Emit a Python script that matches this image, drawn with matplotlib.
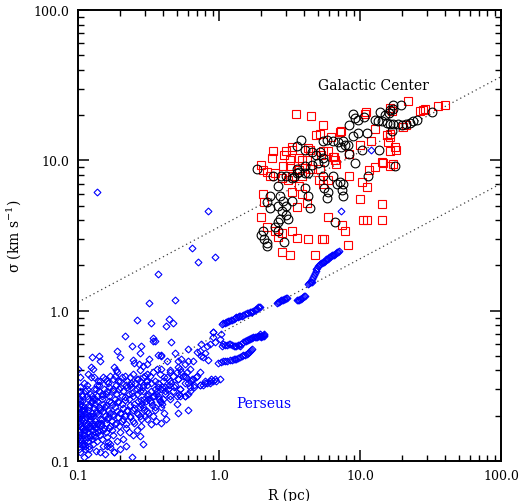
import numpy as np
import matplotlib
matplotlib.use('Agg')
import matplotlib.pyplot as plt
from matplotlib.ticker import LogLocator, NullFormatter

plt.rcParams['font.family'] = ['DejaVu Serif']
plt.rcParams['mathtext.default'] = 'regular'

# Galactic Center clouds: red squares (R [pc], sigma [km/s])
gc_squares = [
    (3.5, 20.2), (4.5, 19.7), (5.5, 17.1), (11.0, 20.9), (22.0, 24.7), (26.5, 21.2), (28.0, 21.5),
    (29.0, 21.8), (36.0, 23.0), (40.0, 23.3), (7.2, 15.4), (7.3, 15.6), (4.9, 14.7), (5.2, 14.9),
    (6.2, 14.3), (12.7, 16.1), (15.5, 14.7), (16.2, 14.9), (10.8, 20.3), (16.2, 22.2), (16.8, 21.2),
    (20.1, 16.6), (21.2, 17.1), (10.0, 12.6), (11.9, 13.4), (15.8, 13.2), (16.4, 14.3), (18.0, 11.7),
    (17.7, 12.2), (16.2, 11.5), (8.4, 11.1), (6.5, 10.6), (4.3, 12.0), (3.3, 12.2), (2.4, 11.5),
    (2.37, 10.3), (3.0, 11.5), (2.9, 10.8), (14.3, 9.8), (14.6, 9.6), (12.7, 9.0), (11.6, 8.6),
    (16.2, 9.2), (17.1, 9.4), (10.3, 7.2), (11.2, 6.6), (8.4, 7.9), (10.0, 5.5), (14.3, 5.1),
    (5.9, 4.2), (10.5, 4.0), (11.2, 4.0), (14.3, 4.0), (7.4, 3.7), (7.8, 3.4), (8.2, 2.75),
    (4.3, 3.0), (5.4, 3.0), (5.6, 3.0), (3.3, 3.4), (3.6, 3.05), (2.8, 3.3), (2.8, 2.47),
    (3.2, 2.33), (4.8, 2.33), (2.05, 6.0), (2.1, 5.3), (2.0, 4.2), (2.2, 3.6), (2.5, 3.4),
    (2.6, 3.1), (3.6, 4.9), (4.2, 5.2), (5.1, 7.4), (5.5, 7.0), (5.9, 7.4), (2.05, 8.6),
    (2.3, 7.9), (2.5, 8.2), (2.8, 7.6), (3.1, 7.4), (3.3, 6.2), (3.7, 6.7), (3.9, 6.0),
    (2.0, 9.3), (2.2, 8.4), (3.3, 11.8), (3.2, 10.0), (3.2, 9.1), (2.85, 9.1), (3.7, 10.3),
    (3.9, 10.0), (4.2, 10.1), (4.4, 11.7), (5.3, 10.9), (5.5, 11.5), (5.9, 11.5), (6.4, 10.6),
    (6.6, 10.0), (6.8, 9.4), (3.7, 8.6), (4.4, 8.8), (4.6, 8.7), (5.2, 8.7), (3.3, 7.9), (3.9, 7.9),
]

# Galactic Center clouds: black circles
gc_circles = [
    (17.1, 23.5), (19.5, 23.5), (16.4, 21.5), (17.1, 21.8), (13.8, 20.9), (15.0, 19.9), (16.0, 20.6),
    (8.9, 20.3), (9.2, 19.1), (9.6, 18.5), (10.7, 19.3), (12.7, 18.5), (13.4, 18.2), (14.3, 18.2),
    (15.5, 17.6), (16.4, 17.4), (17.1, 17.4), (18.6, 17.4), (19.8, 17.1), (21.2, 17.4), (22.5, 17.6),
    (23.7, 18.2), (25.2, 18.5), (32.3, 20.9), (8.4, 17.1), (9.6, 15.1), (11.2, 15.1), (16.8, 15.6),
    (7.6, 13.4), (8.9, 14.5), (8.2, 12.6), (8.4, 11.1), (10.3, 11.7), (13.6, 11.7), (9.2, 9.55),
    (17.6, 9.2), (11.4, 7.9), (7.6, 7.0), (7.4, 6.3), (7.6, 5.8), (3.8, 13.6), (3.6, 12.4),
    (4.1, 11.8), (4.6, 11.3), (4.9, 10.9), (5.2, 11.3), (5.5, 13.4), (5.8, 13.6), (6.4, 13.4),
    (7.0, 13.2), (5.5, 10.3), (5.6, 9.7), (4.1, 9.1), (3.6, 8.8), (3.7, 8.3), (4.3, 8.2),
    (2.4, 7.9), (2.75, 7.9), (4.6, 9.3), (5.0, 9.55), (7.3, 12.2), (7.8, 12.6), (2.3, 5.8),
    (2.2, 5.3), (2.3, 4.8), (2.6, 6.7), (2.7, 5.8), (2.85, 5.4), (3.0, 5.0), (2.6, 5.0),
    (2.8, 4.6), (3.0, 4.3), (3.1, 4.1), (2.7, 4.1), (2.6, 3.9), (2.5, 3.6), (2.6, 3.4),
    (2.05, 3.4), (2.0, 3.2), (2.1, 3.0), (2.2, 2.8), (2.2, 2.7), (2.9, 2.85), (3.0, 7.9),
    (3.3, 7.6), (3.4, 7.8), (3.6, 8.2), (4.1, 8.2), (3.3, 5.4), (4.4, 4.8), (4.1, 6.5),
    (4.3, 5.8), (5.6, 6.5), (5.9, 6.2), (5.8, 5.6), (5.5, 7.9), (6.4, 7.9), (6.9, 7.0),
    (7.2, 7.2), (6.6, 3.9), (1.85, 8.8),
]

# Perseus: sparse upper part of the cloud
perseus_sparse = [
    (0.32, 1.13), (0.49, 1.18), (0.26, 0.87), (0.33, 0.83), (0.44, 0.88), (0.47, 0.83), (0.42, 0.79),
    (0.215, 0.68), (0.34, 0.66), (0.35, 0.63), (0.34, 0.63), (0.46, 0.62), (0.90, 0.72), (0.24, 0.58),
    (0.28, 0.58), (0.275, 0.52), (0.19, 0.54), (0.125, 0.49), (0.14, 0.50), (0.143, 0.46), (0.20, 0.49),
    (0.37, 0.51), (0.39, 0.51), (0.39, 0.50), (0.49, 0.52), (0.245, 0.47), (0.25, 0.45), (0.32, 0.48),
    (0.31, 0.44), (0.60, 0.56), (0.70, 0.53), (0.75, 0.60), (0.82, 0.58), (0.86, 0.60), (0.94, 0.62),
    (0.127, 0.41), (0.18, 0.42), (0.43, 0.46), (0.51, 0.46), (0.54, 0.48), (0.57, 0.44), (0.60, 0.46),
    (0.65, 0.46), (0.75, 0.50), (0.27, 0.44), (0.29, 0.43),
    (0.124, 0.42), (0.185, 0.40), (0.275, 0.40), (0.31, 0.38), (0.39, 0.41), (0.45, 0.40), (0.51, 0.42),
    (0.54, 0.39), (0.124, 0.36), (0.139, 0.34), (0.155, 0.35), (0.163, 0.33), (0.183, 0.37),
    (0.20, 0.34), (0.234, 0.36), (0.237, 0.33), (0.266, 0.35), (0.30, 0.37), (0.35, 0.34),
    (0.41, 0.36), (0.46, 0.33), (0.51, 0.35), (0.57, 0.37), (0.63, 0.34), (0.69, 0.36),
    (0.79, 0.33), (0.88, 0.35), (0.67, 0.31), (0.77, 0.32), (0.86, 0.33), (0.95, 0.34),
    (0.57, 0.27), (0.60, 0.28), (0.50, 0.24), (0.60, 0.22), (0.51, 0.21), (0.39, 0.23), (0.41, 0.21),
    (0.42, 0.19), (0.39, 0.18), (0.34, 0.20), (0.31, 0.19), (0.30, 0.20), (0.29, 0.13), (0.24, 0.107),
    (0.20, 0.12), (0.245, 0.15), (0.275, 0.147), (0.163, 0.134), (0.168, 0.124), (0.155, 0.111),
    (0.134, 0.116), (0.118, 0.111), (0.112, 0.126), (0.103, 0.115),
    (0.103, 0.29), (0.107, 0.27), (0.112, 0.29), (0.116, 0.27), (0.126, 0.27), (0.130, 0.30),
    (0.136, 0.32), (0.143, 0.34), (0.150, 0.36), (0.160, 0.34), (0.168, 0.37), (0.177, 0.35),
    (0.189, 0.39), (0.192, 0.34), (0.205, 0.36), (0.215, 0.37), (0.222, 0.34), (0.234, 0.32),
    (0.246, 0.38), (0.262, 0.35), (0.275, 0.34), (0.289, 0.36), (0.308, 0.34), (0.324, 0.37),
    (0.340, 0.39), (0.363, 0.41), (0.381, 0.38), (0.400, 0.34), (0.427, 0.36), (0.449, 0.39),
    (0.471, 0.37), (0.503, 0.39), (0.528, 0.41), (0.555, 0.37), (0.590, 0.39), (0.620, 0.41),
    (0.653, 0.35), (0.698, 0.37), (0.732, 0.39), (0.289, 0.29), (0.308, 0.27), (0.324, 0.25),
    (0.340, 0.27), (0.363, 0.29), (0.381, 0.25), (0.400, 0.26), (0.414, 0.31), (0.435, 0.30),
    (0.471, 0.29), (0.503, 0.27), (0.528, 0.30), (0.57, 0.27), (0.60, 0.33), (0.64, 0.35),
    (0.67, 0.32), (0.73, 0.32), (0.79, 0.34), (0.86, 0.34), (0.94, 0.35),
    (0.15, 0.125), (0.17, 0.13), (0.19, 0.135), (0.21, 0.14), (0.23, 0.155), (0.26, 0.16),
    (0.28, 0.17), (0.33, 0.175), (0.36, 0.185), (0.22, 0.125), (0.18, 0.115),
    (0.100, 0.41), (0.104, 0.36), (0.110, 0.33), (0.118, 0.38), (0.130, 0.36),
    (0.11, 0.106), (0.12, 0.12), (0.143, 0.115), (0.16, 0.126), (0.18, 0.115),
    (0.73, 0.54), (0.79, 0.52), (0.77, 0.49), (0.84, 0.47), (0.91, 0.72), (1.03, 0.70),
    (1.05, 0.58), (0.91, 0.67), (1.02, 0.65), (0.73, 0.32), (0.82, 0.33), (0.91, 0.34),
    (1.02, 0.35), (0.53, 0.27), (0.62, 0.29),
]

# Perseus: dense core of the cloud
perseus_core = [
    (0.100, 0.13), (0.101, 0.145), (0.100, 0.16), (0.102, 0.175), (0.100, 0.19), (0.101, 0.21),
    (0.100, 0.23), (0.103, 0.25),
    (0.102, 0.12), (0.104, 0.14), (0.101, 0.155), (0.105, 0.17), (0.103, 0.185), (0.100, 0.20),
    (0.106, 0.22), (0.102, 0.26), (0.104, 0.31),
    (0.105, 0.135), (0.102, 0.15), (0.107, 0.165), (0.104, 0.18), (0.101, 0.195), (0.106, 0.215),
    (0.103, 0.24),
    (0.108, 0.125), (0.104, 0.14), (0.110, 0.16), (0.105, 0.17), (0.107, 0.19), (0.103, 0.205),
    (0.109, 0.225), (0.106, 0.28),
    (0.106, 0.13), (0.111, 0.15), (0.108, 0.165), (0.112, 0.18), (0.105, 0.20), (0.110, 0.22),
    (0.107, 0.25),
    (0.113, 0.12), (0.108, 0.14), (0.111, 0.155), (0.114, 0.17), (0.109, 0.185), (0.112, 0.21),
    (0.107, 0.235), (0.115, 0.30),
    (0.110, 0.13), (0.116, 0.145), (0.112, 0.16), (0.117, 0.175), (0.114, 0.195), (0.111, 0.215),
    (0.118, 0.26),
    (0.119, 0.125), (0.114, 0.14), (0.118, 0.155), (0.121, 0.17), (0.113, 0.19), (0.117, 0.20),
    (0.120, 0.23), (0.115, 0.32),
    (0.117, 0.135), (0.123, 0.15), (0.119, 0.165), (0.125, 0.18), (0.121, 0.20), (0.118, 0.22),
    (0.124, 0.245), (0.122, 0.28),
    (0.127, 0.13), (0.121, 0.145), (0.126, 0.16), (0.129, 0.175), (0.122, 0.19), (0.125, 0.21),
    (0.120, 0.235), (0.128, 0.26),
    (0.125, 0.14), (0.132, 0.155), (0.127, 0.17), (0.133, 0.185), (0.124, 0.20), (0.130, 0.225),
    (0.126, 0.25), (0.134, 0.30),
    (0.136, 0.135), (0.129, 0.15), (0.134, 0.165), (0.138, 0.18), (0.128, 0.20), (0.135, 0.215),
    (0.131, 0.24), (0.137, 0.27),
    (0.133, 0.145), (0.141, 0.16), (0.136, 0.175), (0.143, 0.19), (0.134, 0.21), (0.140, 0.23),
    (0.132, 0.26), (0.142, 0.29),
    (0.147, 0.14), (0.138, 0.155), (0.145, 0.17), (0.149, 0.19), (0.139, 0.205), (0.144, 0.225),
    (0.137, 0.25), (0.148, 0.28), (0.141, 0.32),
    (0.144, 0.15), (0.153, 0.165), (0.146, 0.18), (0.155, 0.20), (0.143, 0.22), (0.151, 0.24),
    (0.147, 0.27), (0.152, 0.30),
    (0.160, 0.145), (0.150, 0.16), (0.158, 0.18), (0.162, 0.195), (0.151, 0.215), (0.157, 0.235),
    (0.149, 0.26), (0.161, 0.29),
    (0.157, 0.155), (0.168, 0.17), (0.160, 0.19), (0.170, 0.21), (0.156, 0.23), (0.165, 0.25),
    (0.159, 0.28), (0.167, 0.31),
    (0.176, 0.15), (0.165, 0.165), (0.173, 0.185), (0.178, 0.205), (0.164, 0.22), (0.172, 0.245),
    (0.166, 0.27), (0.177, 0.30),
    (0.174, 0.16), (0.187, 0.18), (0.178, 0.20), (0.188, 0.215), (0.173, 0.235), (0.184, 0.26),
    (0.176, 0.29), (0.186, 0.32),
    (0.197, 0.155), (0.184, 0.175), (0.193, 0.195), (0.199, 0.21), (0.183, 0.23), (0.192, 0.25),
    (0.186, 0.28), (0.198, 0.31),
    (0.194, 0.17), (0.208, 0.19), (0.197, 0.21), (0.207, 0.225), (0.193, 0.245), (0.204, 0.27),
    (0.196, 0.30),
    (0.220, 0.165), (0.205, 0.185), (0.216, 0.20), (0.221, 0.22), (0.204, 0.24), (0.214, 0.265),
    (0.207, 0.29), (0.219, 0.32),
    (0.218, 0.175), (0.234, 0.195), (0.222, 0.215), (0.233, 0.235), (0.217, 0.255), (0.229, 0.28),
    (0.221, 0.31),
    (0.249, 0.18), (0.232, 0.20), (0.245, 0.22), (0.250, 0.24), (0.231, 0.26), (0.243, 0.285),
    (0.236, 0.31),
    (0.247, 0.185), (0.265, 0.205), (0.251, 0.225), (0.266, 0.25), (0.246, 0.27), (0.260, 0.30),
    (0.252, 0.33),
    (0.281, 0.19), (0.261, 0.21), (0.276, 0.23), (0.282, 0.255), (0.262, 0.28), (0.273, 0.31),
    (0.276, 0.20), (0.296, 0.22), (0.281, 0.24), (0.295, 0.26), (0.277, 0.29), (0.290, 0.32),
    (0.312, 0.21), (0.290, 0.23), (0.306, 0.25), (0.313, 0.28), (0.291, 0.31), (0.304, 0.34),
    (0.310, 0.215), (0.333, 0.235), (0.316, 0.26), (0.332, 0.29), (0.311, 0.32),
    (0.353, 0.22), (0.329, 0.245), (0.347, 0.27), (0.354, 0.30), (0.330, 0.33),
    (0.349, 0.23), (0.374, 0.26), (0.355, 0.28), (0.372, 0.31),
    (0.395, 0.24), (0.368, 0.27), (0.388, 0.30), (0.370, 0.33),
    (0.388, 0.245), (0.416, 0.28), (0.395, 0.31),
    (0.447, 0.26), (0.417, 0.29), (0.440, 0.32),
    (0.446, 0.27), (0.478, 0.31), (0.452, 0.34),
    (0.520, 0.28), (0.485, 0.32), (0.510, 0.35),
    (0.533, 0.30), (0.570, 0.33), (0.620, 0.31), (0.582, 0.36),
]

# Perseus: continuous tracks
perseus_tracks = [
    (1.05, 0.82), (1.07, 0.825), (1.10, 0.83), (1.12, 0.84), (1.14, 0.845), (1.16, 0.85),
    (1.18, 0.86), (1.21, 0.865), (1.24, 0.87), (1.27, 0.885), (1.30, 0.90), (1.33, 0.905),
    (1.36, 0.91), (1.39, 0.915), (1.41, 0.925), (1.45, 0.925), (1.49, 0.94), (1.53, 0.955),
    (1.57, 0.96), (1.60, 0.97), (1.65, 0.985), (1.68, 0.985), (1.71, 0.985), (1.75, 1.0),
    (1.79, 1.015), (1.82, 1.02), (1.85, 1.03), (1.89, 1.05), (1.92, 1.05), (1.95, 1.05),
    (2.58, 1.13), (2.62, 1.14), (2.66, 1.15), (2.70, 1.16), (2.75, 1.17), (2.80, 1.175),
    (2.84, 1.18), (2.89, 1.19), (2.94, 1.20), (2.99, 1.21), (3.03, 1.22),
    (3.57, 1.17), (3.63, 1.175), (3.69, 1.18), (3.75, 1.19), (3.81, 1.20), (3.88, 1.22),
    (3.94, 1.24), (4.00, 1.25), (4.07, 1.26),
    (4.27, 1.51), (4.35, 1.52), (4.42, 1.54), (4.49, 1.55), (4.56, 1.56), (4.60, 1.62),
    (4.64, 1.68), (4.72, 1.74), (4.80, 1.79), (4.84, 1.84), (4.88, 1.88), (4.95, 1.93),
    (5.03, 1.97), (5.12, 2.0), (5.20, 2.03), (5.29, 2.06), (5.38, 2.09), (5.46, 2.1),
    (5.55, 2.12), (5.65, 2.15), (5.74, 2.19), (5.83, 2.2), (5.92, 2.22), (6.02, 2.26),
    (6.12, 2.29), (6.22, 2.31), (6.33, 2.33), (6.43, 2.35), (6.53, 2.36), (6.64, 2.4),
    (6.75, 2.43), (6.86, 2.45), (6.97, 2.47), (7.08, 2.51),
    (1.07, 0.60), (1.10, 0.595), (1.14, 0.59), (1.17, 0.60), (1.20, 0.60), (1.24, 0.59),
    (1.27, 0.585), (1.30, 0.58), (1.33, 0.585), (1.36, 0.59), (1.38, 0.59), (1.41, 0.58),
    (1.44, 0.60), (1.48, 0.62), (1.52, 0.625), (1.55, 0.63), (1.58, 0.635), (1.60, 0.64),
    (1.63, 0.645), (1.65, 0.65), (1.68, 0.655), (1.71, 0.66), (1.75, 0.665), (1.79, 0.67),
    (1.82, 0.67), (1.85, 0.67), (1.89, 0.675), (1.92, 0.68), (1.95, 0.68), (1.98, 0.68),
    (2.02, 0.68), (2.05, 0.68), (2.08, 0.685), (2.10, 0.68), (2.00, 0.665), (2.07, 0.695),
    (1.95, 0.695),
    (0.99, 0.45), (1.03, 0.455), (1.07, 0.46), (1.10, 0.46), (1.14, 0.465), (1.19, 0.468),
    (1.24, 0.47), (1.27, 0.475), (1.30, 0.48), (1.33, 0.48), (1.36, 0.485), (1.40, 0.49),
    (1.45, 0.50), (1.49, 0.505), (1.53, 0.51), (1.57, 0.515), (1.60, 0.525), (1.62, 0.53),
    (1.65, 0.54), (1.68, 0.55), (1.71, 0.56),
]

# Perseus: isolated high points
perseus_outliers = [
    (0.136, 6.2), (0.84, 4.6), (0.64, 2.63), (0.71, 2.12), (0.94, 2.26), (0.37, 1.76),
    (7.3, 4.6), (11.9, 11.7),
]

# sigma = c * R^0.5 reference lines
line_coef = [3.6, 0.7]
line_slope = 0.5
line_r = [0.1, 100.0]

fig = plt.figure(figsize=(5.21, 5.02), dpi=100)
ax = fig.add_axes([78 / 521, 40 / 502, 423 / 521, 451 / 502])
ax.set_xscale('log')
ax.set_yscale('log')

r = np.array(line_r)
for c in line_coef:
    ax.plot(r, c * r ** line_slope, ls=(0, (1, 2.5)), color='0.25', lw=0.9)

per = np.array(perseus_sparse + perseus_core + perseus_tracks + perseus_outliers).T
ax.plot(per[0], per[1], 'D', ls='none', mfc='none', mec='blue', ms=3.5, mew=0.8)

sq = np.array(gc_squares).T
ax.plot(sq[0], sq[1], 's', ls='none', mfc='none', mec='red', ms=5.5, mew=0.8)

ci = np.array(gc_circles).T
ax.plot(ci[0], ci[1], 'o', ls='none', mfc='none', mec='black', ms=6.3, mew=0.8)

ax.text(12.5, 31.5, 'Galactic Center', ha='center', va='center', fontsize=10)
ax.text(2.08, 0.244, 'Perseus', ha='center', va='center', fontsize=10, color='blue')

ax.set_xlim(0.1, 100)
ax.set_ylim(0.1, 100)
ticks = [0.1, 1, 10, 100]
labels = ['0.1', '1.0', '10.0', '100.0']
ax.set_xticks(ticks)
ax.set_xticklabels(labels)
ax.set_yticks(ticks)
ax.set_yticklabels(labels)
for axis in (ax.xaxis, ax.yaxis):
    axis.set_minor_locator(LogLocator(base=10, subs=np.arange(2, 10), numticks=20))
    axis.set_minor_formatter(NullFormatter())
ax.tick_params(which='both', direction='in', top=True, right=True, labelsize=9)
ax.tick_params(which='major', length=8, width=1.1, pad=6)
ax.tick_params(which='minor', length=4.5, width=1.0)
for s in ax.spines.values():
    s.set_linewidth(1.4)

ax.set_xlabel('R (pc)', fontsize=10, labelpad=4)
ax.set_ylabel('σ (km s$^{-1}$)', fontsize=10, labelpad=8)

fig.savefig('out.png', dpi=100)
